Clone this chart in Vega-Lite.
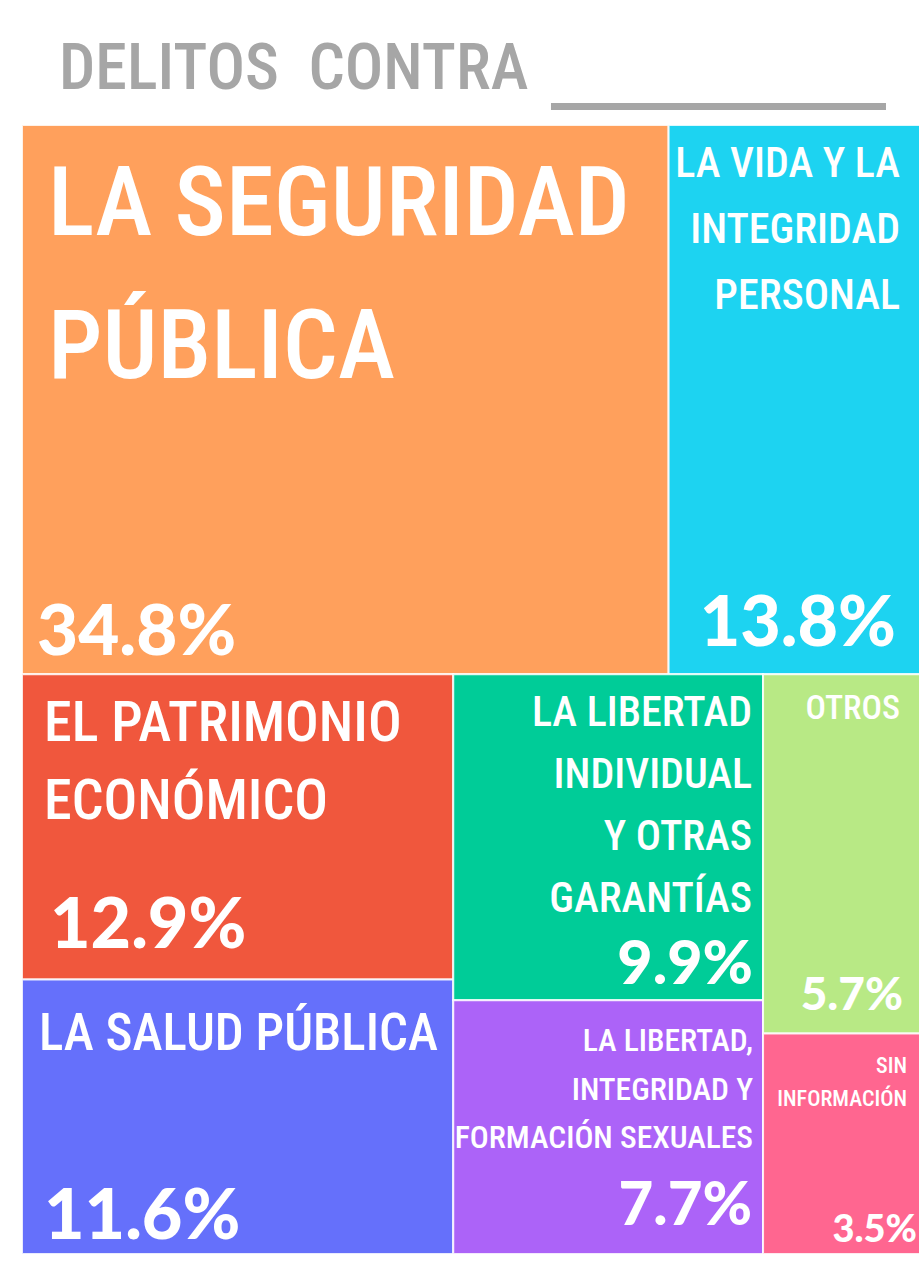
{
  "$schema": "https://vega.github.io/schema/vega-lite/v6.json",
  "autosize": {"type": "none"},
  "width": 897,
  "height": 1129,
  "padding": {"left": 22, "top": 125, "right": 0, "bottom": 15},
  "background": "white",
  "config": {"view": {"stroke": null}, "axis": {"disable": true}, "text": {"font": "Roboto Condensed, DejaVu Sans Condensed, sans-serif", "fontWeight": 500}},
  "layer": [
    {
      "data": {"values": [{"titulo": "DELITOS\u00a0 CONTRA"}]},
      "mark": {"type": "text", "align": "left", "baseline": "alphabetic", "dx": 37, "dy": -36, "fontSize": 64, "color": "#a6a6a6"},
      "encoding": {
        "x": {"datum": 0, "type": "quantitative", "scale": {"domain": [0, 99.336], "nice": false, "zero": false}},
        "y": {"datum": 0, "type": "quantitative", "scale": {"domain": [0, 100], "reverse": true, "nice": false, "zero": false}},
        "text": {"field": "titulo"}
      }
    },
    {
      "data": {"values": [{"linea": "subrayado"}]},
      "mark": {"type": "rule", "color": "#a6a6a6", "strokeWidth": 7},
      "encoding": {
        "x": {"datum": 58.58, "type": "quantitative", "scale": {"domain": [0, 99.336], "nice": false, "zero": false}},
        "x2": {"datum": 95.68},
        "y": {"datum": -1.64, "type": "quantitative", "scale": {"domain": [0, 100], "reverse": true, "nice": false, "zero": false}}
      }
    },
    {
      "data": {"values": [
        {"categoria": "LA SEGURIDAD PÚBLICA", "etiqueta": "LA SEGURIDAD\nPÚBLICA", "proporcion": 0.348, "bloque": 1, "columna": 1, "orden": 1},
        {"categoria": "LA VIDA Y LA INTEGRIDAD PERSONAL", "etiqueta": "LA VIDA Y LA\nINTEGRIDAD\nPERSONAL", "proporcion": 0.138, "bloque": 1, "columna": 2, "orden": 1},
        {"categoria": "EL PATRIMONIO ECONÓMICO", "etiqueta": "EL PATRIMONIO\nECONÓMICO", "proporcion": 0.129, "bloque": 2, "columna": 1, "orden": 1},
        {"categoria": "LA SALUD PÚBLICA", "etiqueta": "LA SALUD PÚBLICA", "proporcion": 0.116, "bloque": 2, "columna": 1, "orden": 2},
        {"categoria": "LA LIBERTAD INDIVIDUAL Y OTRAS GARANTÍAS", "etiqueta": "LA LIBERTAD\nINDIVIDUAL\nY OTRAS\nGARANTÍAS", "proporcion": 0.099, "bloque": 2, "columna": 2, "orden": 1},
        {"categoria": "LA LIBERTAD, INTEGRIDAD Y FORMACIÓN SEXUALES", "etiqueta": "LA LIBERTAD,\nINTEGRIDAD Y\nFORMACIÓN SEXUALES", "proporcion": 0.077, "bloque": 2, "columna": 2, "orden": 2},
        {"categoria": "OTROS", "etiqueta": "OTROS", "proporcion": 0.057, "bloque": 2, "columna": 3, "orden": 1},
        {"categoria": "SIN INFORMACIÓN", "etiqueta": "SIN\nINFORMACIÓN", "proporcion": 0.035, "bloque": 2, "columna": 3, "orden": 2}
      ]},
      "transform": [
        {"joinaggregate": [{"op": "sum", "field": "proporcion", "as": "total"}]},
        {"joinaggregate": [{"op": "sum", "field": "proporcion", "as": "totalBloque"}], "groupby": ["bloque"]},
        {"joinaggregate": [{"op": "sum", "field": "proporcion", "as": "totalColumna"}], "groupby": ["bloque", "columna"]},
        {"window": [{"op": "sum", "field": "proporcion", "as": "acumTodo"}], "sort": [{"field": "bloque"}, {"field": "columna"}, {"field": "orden"}], "frame": [null, 0]},
        {"window": [{"op": "sum", "field": "proporcion", "as": "acumBloque"}], "groupby": ["bloque"], "sort": [{"field": "columna"}, {"field": "orden"}], "frame": [null, 0]},
        {"window": [{"op": "sum", "field": "proporcion", "as": "acumColumna"}], "groupby": ["bloque", "columna"], "sort": [{"field": "orden"}], "frame": [null, 0]},
        {"calculate": "datum.acumTodo - datum.acumBloque", "as": "inicioBloque"},
        {"calculate": "datum.acumBloque - datum.acumColumna", "as": "inicioColumna"},
        {"calculate": "100 * datum.inicioColumna / datum.totalBloque", "as": "x0"},
        {"calculate": "100 * (datum.inicioColumna + datum.totalColumna) / datum.totalBloque", "as": "x1"},
        {"calculate": "100 * (datum.inicioBloque + (datum.acumColumna - datum.proporcion) / datum.totalColumna * datum.totalBloque) / datum.total", "as": "y0"},
        {"calculate": "100 * (datum.inicioBloque + datum.acumColumna / datum.totalColumna * datum.totalBloque) / datum.total", "as": "y1"}
      ],
      "layer": [
        {
          "mark": {"type": "rect", "stroke": "white", "strokeWidth": 2, "strokeOpacity": 0.85, "clip": true},
          "encoding": {
            "x": {"field": "x0", "type": "quantitative", "scale": {"domain": [0, 99.336], "nice": false, "zero": false}},
            "x2": {"field": "x1"},
            "y": {"field": "y0", "type": "quantitative", "scale": {"domain": [0, 100], "reverse": true, "nice": false, "zero": false}},
            "y2": {"field": "y1"},
            "color": {
              "field": "categoria", "type": "nominal", "legend": null,
              "scale": {
                "domain": ["LA SEGURIDAD PÚBLICA", "LA VIDA Y LA INTEGRIDAD PERSONAL", "EL PATRIMONIO ECONÓMICO", "LA SALUD PÚBLICA", "LA LIBERTAD INDIVIDUAL Y OTRAS GARANTÍAS", "LA LIBERTAD, INTEGRIDAD Y FORMACIÓN SEXUALES", "OTROS", "SIN INFORMACIÓN"],
                "range": ["#FFA05C", "#1DD3F1", "#F0573D", "#6570FB", "#00CC98", "#AC63F8", "#B8E985", "#FF6690"]
              }
            }
          }
        },
        {
          "transform": [{"filter": "datum.bloque == 1 && datum.columna == 1"}],
          "mark": {"type": "text", "align": "left", "baseline": "alphabetic", "lineBreak": "\n", "lineHeight": 143, "dx": 26, "dy": 109.5, "fontSize": 97, "color": "white"},
          "encoding": {"x": {"field": "x0", "type": "quantitative", "scale": {"domain": [0, 99.336], "nice": false, "zero": false}}, "y": {"field": "y0", "type": "quantitative", "scale": {"domain": [0, 100], "reverse": true, "nice": false, "zero": false}}, "text": {"field": "etiqueta"}}
        },
        {
          "transform": [{"filter": "datum.bloque == 1 && datum.columna == 2"}],
          "mark": {"type": "text", "align": "right", "baseline": "alphabetic", "lineBreak": "\n", "lineHeight": 66, "dx": -25, "dy": 51.5, "fontSize": 42, "color": "white"},
          "encoding": {"x": {"field": "x1", "type": "quantitative", "scale": {"domain": [0, 99.336], "nice": false, "zero": false}}, "y": {"field": "y0", "type": "quantitative", "scale": {"domain": [0, 100], "reverse": true, "nice": false, "zero": false}}, "text": {"field": "etiqueta"}}
        },
        {
          "transform": [{"filter": "datum.bloque == 2 && datum.columna == 1 && datum.orden == 1"}],
          "mark": {"type": "text", "align": "left", "baseline": "alphabetic", "lineBreak": "\n", "lineHeight": 78, "dx": 22, "dy": 67, "fontSize": 56, "color": "white"},
          "encoding": {"x": {"field": "x0", "type": "quantitative", "scale": {"domain": [0, 99.336], "nice": false, "zero": false}}, "y": {"field": "y0", "type": "quantitative", "scale": {"domain": [0, 100], "reverse": true, "nice": false, "zero": false}}, "text": {"field": "etiqueta"}}
        },
        {
          "transform": [{"filter": "datum.bloque == 2 && datum.columna == 1 && datum.orden == 2"}],
          "mark": {"type": "text", "align": "left", "baseline": "alphabetic", "lineBreak": "\n", "dx": 17, "dy": 70.5, "fontSize": 51, "color": "white"},
          "encoding": {"x": {"field": "x0", "type": "quantitative", "scale": {"domain": [0, 99.336], "nice": false, "zero": false}}, "y": {"field": "y0", "type": "quantitative", "scale": {"domain": [0, 100], "reverse": true, "nice": false, "zero": false}}, "text": {"field": "etiqueta"}}
        },
        {
          "transform": [{"filter": "datum.bloque == 2 && datum.columna == 2 && datum.orden == 1"}],
          "mark": {"type": "text", "align": "right", "baseline": "alphabetic", "lineBreak": "\n", "lineHeight": 62, "dx": -11, "dy": 52, "fontSize": 42, "color": "white"},
          "encoding": {"x": {"field": "x1", "type": "quantitative", "scale": {"domain": [0, 99.336], "nice": false, "zero": false}}, "y": {"field": "y0", "type": "quantitative", "scale": {"domain": [0, 100], "reverse": true, "nice": false, "zero": false}}, "text": {"field": "etiqueta"}}
        },
        {
          "transform": [{"filter": "datum.bloque == 2 && datum.columna == 2 && datum.orden == 2"}],
          "mark": {"type": "text", "align": "right", "baseline": "alphabetic", "lineBreak": "\n", "lineHeight": 48.5, "dx": -10, "dy": 51, "fontSize": 31.5, "color": "white"},
          "encoding": {"x": {"field": "x1", "type": "quantitative", "scale": {"domain": [0, 99.336], "nice": false, "zero": false}}, "y": {"field": "y0", "type": "quantitative", "scale": {"domain": [0, 100], "reverse": true, "nice": false, "zero": false}}, "text": {"field": "etiqueta"}}
        },
        {
          "transform": [{"filter": "datum.bloque == 2 && datum.columna == 3 && datum.orden == 1"}],
          "mark": {"type": "text", "align": "right", "baseline": "alphabetic", "lineBreak": "\n", "dx": -25, "dy": 45, "fontSize": 34, "color": "white"},
          "encoding": {"x": {"field": "x1", "type": "quantitative", "scale": {"domain": [0, 99.336], "nice": false, "zero": false}}, "y": {"field": "y0", "type": "quantitative", "scale": {"domain": [0, 100], "reverse": true, "nice": false, "zero": false}}, "text": {"field": "etiqueta"}}
        },
        {
          "transform": [{"filter": "datum.bloque == 2 && datum.columna == 3 && datum.orden == 2"}],
          "mark": {"type": "text", "align": "right", "baseline": "alphabetic", "lineBreak": "\n", "lineHeight": 33, "dx": -18, "dy": 39.6, "fontSize": 22, "color": "white"},
          "encoding": {"x": {"field": "x1", "type": "quantitative", "scale": {"domain": [0, 99.336], "nice": false, "zero": false}}, "y": {"field": "y0", "type": "quantitative", "scale": {"domain": [0, 100], "reverse": true, "nice": false, "zero": false}}, "text": {"field": "etiqueta"}}
        },
        {
          "transform": [{"filter": "datum.bloque == 1 && datum.columna == 1"}],
          "mark": {"type": "text", "align": "left", "baseline": "alphabetic", "dx": 15, "dy": -19, "fontSize": 71, "font": "Lato", "fontWeight": 900, "color": "white"},
          "encoding": {"x": {"field": "x0", "type": "quantitative", "scale": {"domain": [0, 99.336], "nice": false, "zero": false}}, "y": {"field": "y1", "type": "quantitative", "scale": {"domain": [0, 100], "reverse": true, "nice": false, "zero": false}}, "text": {"field": "proporcion", "type": "quantitative", "format": ".1%"}}
        },
        {
          "transform": [{"filter": "datum.bloque == 1 && datum.columna == 2"}],
          "mark": {"type": "text", "align": "right", "baseline": "alphabetic", "dx": -29, "dy": -28, "fontSize": 70, "font": "Lato", "fontWeight": 900, "color": "white"},
          "encoding": {"x": {"field": "x1", "type": "quantitative", "scale": {"domain": [0, 99.336], "nice": false, "zero": false}}, "y": {"field": "y1", "type": "quantitative", "scale": {"domain": [0, 100], "reverse": true, "nice": false, "zero": false}}, "text": {"field": "proporcion", "type": "quantitative", "format": ".1%"}}
        },
        {
          "transform": [{"filter": "datum.bloque == 2 && datum.columna == 1 && datum.orden == 1"}],
          "mark": {"type": "text", "align": "left", "baseline": "alphabetic", "dx": 28, "dy": -32, "fontSize": 70, "font": "Lato", "fontWeight": 900, "color": "white"},
          "encoding": {"x": {"field": "x0", "type": "quantitative", "scale": {"domain": [0, 99.336], "nice": false, "zero": false}}, "y": {"field": "y1", "type": "quantitative", "scale": {"domain": [0, 100], "reverse": true, "nice": false, "zero": false}}, "text": {"field": "proporcion", "type": "quantitative", "format": ".1%"}}
        },
        {
          "transform": [{"filter": "datum.bloque == 2 && datum.columna == 1 && datum.orden == 2"}],
          "mark": {"type": "text", "align": "left", "baseline": "alphabetic", "dx": 22, "dy": -15, "fontSize": 70, "font": "Lato", "fontWeight": 900, "color": "white"},
          "encoding": {"x": {"field": "x0", "type": "quantitative", "scale": {"domain": [0, 99.336], "nice": false, "zero": false}}, "y": {"field": "y1", "type": "quantitative", "scale": {"domain": [0, 100], "reverse": true, "nice": false, "zero": false}}, "text": {"field": "proporcion", "type": "quantitative", "format": ".1%"}}
        },
        {
          "transform": [{"filter": "datum.bloque == 2 && datum.columna == 2 && datum.orden == 1"}],
          "mark": {"type": "text", "align": "right", "baseline": "alphabetic", "dx": -10, "dy": -16, "fontSize": 61, "font": "Lato", "fontWeight": 900, "color": "white"},
          "encoding": {"x": {"field": "x1", "type": "quantitative", "scale": {"domain": [0, 99.336], "nice": false, "zero": false}}, "y": {"field": "y1", "type": "quantitative", "scale": {"domain": [0, 100], "reverse": true, "nice": false, "zero": false}}, "text": {"field": "proporcion", "type": "quantitative", "format": ".1%"}}
        },
        {
          "transform": [{"filter": "datum.bloque == 2 && datum.columna == 2 && datum.orden == 2"}],
          "mark": {"type": "text", "align": "right", "baseline": "alphabetic", "dx": -11, "dy": -29.5, "fontSize": 60, "font": "Lato", "fontWeight": 900, "color": "white"},
          "encoding": {"x": {"field": "x1", "type": "quantitative", "scale": {"domain": [0, 99.336], "nice": false, "zero": false}}, "y": {"field": "y1", "type": "quantitative", "scale": {"domain": [0, 100], "reverse": true, "nice": false, "zero": false}}, "text": {"field": "proporcion", "type": "quantitative", "format": ".1%"}}
        },
        {
          "transform": [{"filter": "datum.bloque == 2 && datum.columna == 3 && datum.orden == 1"}],
          "mark": {"type": "text", "align": "right", "baseline": "alphabetic", "dx": -22, "dy": -23, "fontSize": 46, "font": "Lato", "fontWeight": 900, "color": "white"},
          "encoding": {"x": {"field": "x1", "type": "quantitative", "scale": {"domain": [0, 99.336], "nice": false, "zero": false}}, "y": {"field": "y1", "type": "quantitative", "scale": {"domain": [0, 100], "reverse": true, "nice": false, "zero": false}}, "text": {"field": "proporcion", "type": "quantitative", "format": ".1%"}}
        },
        {
          "transform": [{"filter": "datum.bloque == 2 && datum.columna == 3 && datum.orden == 2"}],
          "mark": {"type": "text", "align": "right", "baseline": "alphabetic", "dx": -8, "dy": -12, "fontSize": 38, "font": "Lato", "fontWeight": 900, "color": "white"},
          "encoding": {"x": {"field": "x1", "type": "quantitative", "scale": {"domain": [0, 99.336], "nice": false, "zero": false}}, "y": {"field": "y1", "type": "quantitative", "scale": {"domain": [0, 100], "reverse": true, "nice": false, "zero": false}}, "text": {"field": "proporcion", "type": "quantitative", "format": ".1%"}}
        }
      ]
    }
  ]
}
